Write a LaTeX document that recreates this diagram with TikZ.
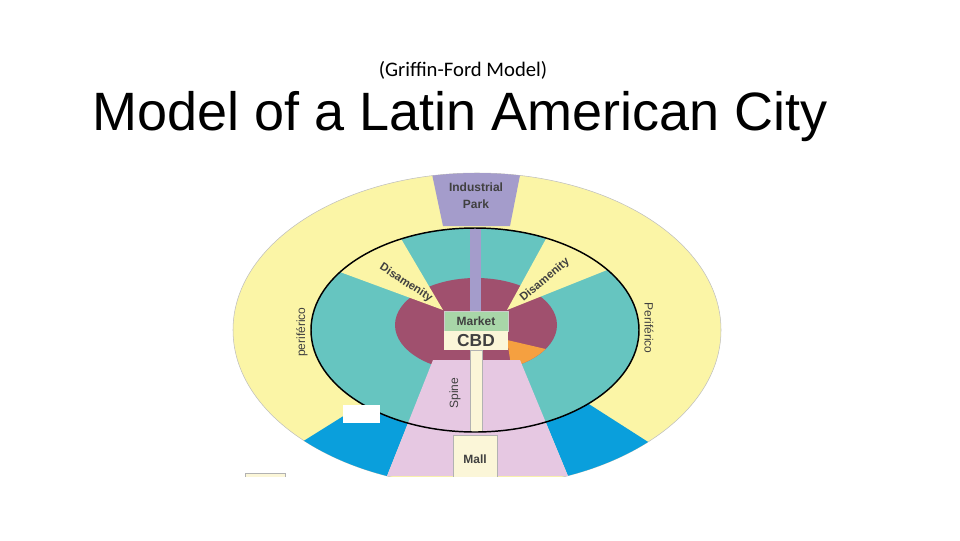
\documentclass[tikz,border=0pt]{standalone}
\usepackage{fontspec}
\usetikzlibrary{calc}
\setmainfont{Liberation Sans}
\newfontfamily\calib{Carlito}
\definecolor{yel}{HTML}{FBF5A6}
\definecolor{lav}{HTML}{A49CCB}
\definecolor{teal}{HTML}{66C5C0}
\definecolor{mag}{HTML}{A0506E}
\definecolor{blu}{HTML}{0A9FDC}
\definecolor{pnk}{HTML}{E6C8E2}
\definecolor{org}{HTML}{F5A040}
\definecolor{crm}{HTML}{FBF6D8}
\definecolor{grn}{HTML}{A8D6A8}
\tikzset{lbl/.style={font=\fontsize{9}{10}\selectfont\bfseries, text=black!75, inner sep=0pt}}
\begin{document}
\begin{tikzpicture}[x=0.75pt,y=-0.75pt]
\useasboundingbox (0,0) rectangle (960,540);
\node[font=\calib\fontsize{15.5}{17}\selectfont] (sub) at (463,70) {(Griffin-Ford Model)};
\node[font=\fontsize{40.5}{44}\selectfont,anchor=west,inner sep=0pt] (title) at (92,117) {Model of a Latin American City};
\begin{scope}
\clip (0,0) rectangle (960,476);
\fill[yel,draw=black!25] (477,330) ellipse [x radius=244, y radius=157];
\begin{scope}
\clip (477,330) ellipse [x radius=244, y radius=157];
\fill[lav] (429,160) -- (523,160) -- (510,226) -- (443,226) -- cycle;
\fill[blu] (433,360) -- (341,592) -- (-37,654) -- cycle;
\fill[blu] (520,360) -- (616,592) -- (989,660) -- cycle;
\end{scope}
\fill[pnk] (433,360) -- (520,360) -- (568,476) -- (387,476) -- cycle;
\fill[teal] (475,330) ellipse [x radius=164, y radius=102];
\begin{scope}
\clip (475,330) ellipse [x radius=164, y radius=102];
\fill[mag] (476,325) ellipse [x radius=81, y radius=47];
\fill[yel] (443,310) -- ($(443,310)!2.2!(340,272)$) -- ($(443,310)!2.2!(400,237)$) -- cycle;
\fill[yel] (507,310) -- ($(507,310)!2.2!(547,237)$) -- ($(507,310)!2.2!(607,270)$) -- cycle;
\begin{scope}
\clip (476,325) ellipse [x radius=81, y radius=47];
\fill[org] (507,340) -- (580,357) -- (515,390) -- cycle;
\end{scope}
\fill[lav] (470,225) rectangle (481,312);
\fill[pnk] (433,360) -- (520,360) -- (568,476) -- (387,476) -- cycle;
\fill[crm,draw=black!30] (470,350) rectangle (482,440);
\end{scope}
\draw[black,line width=1.1pt] (475,330) ellipse [x radius=164, y radius=102];
\fill[crm,draw=black!30] (453,435) rectangle (497,480);
\fill[crm,draw=black!30] (245,473) rectangle (285,485);
\end{scope}
\fill[grn,draw=black!20] (444,311) rectangle (508,331);
\fill[crm] (444,331) rectangle (508,350);
\fill[white] (343,405) rectangle (380,423);
\node[lbl] (ip1) at (476,187) {Industrial};
\node[lbl] (ip2) at (476,204) {Park};
\node[lbl] (mk) at (476,321) {Market};
\node[lbl,font=\fontsize{13}{14}\selectfont\bfseries] (cbd) at (476,341) {CBD};
\node[lbl,font=\fontsize{8.5}{10}\selectfont\bfseries,rotate=-33] (d1) at (406,283) {Disamenity};
\node[lbl,font=\fontsize{8.5}{10}\selectfont\bfseries,rotate=40] (d2) at (545,280) {Disamenity};
\node[lbl,font=\fontsize{9}{10}\selectfont,rotate=90] (p1) at (302,332) {periférico};
\node[lbl,font=\fontsize{9}{10}\selectfont,rotate=-90] (p2) at (649,328) {Periférico};
\node[lbl,font=\fontsize{9}{10}\selectfont,rotate=90] (sp) at (455,393) {Spine};
\node[lbl] (ml) at (475,459) {Mall};
\end{tikzpicture}
\end{document}
